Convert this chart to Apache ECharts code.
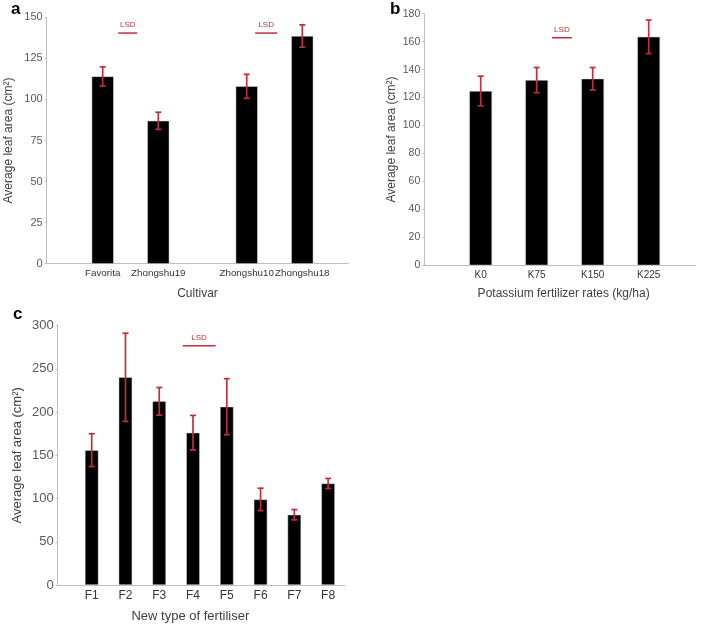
<!DOCTYPE html>
<html><head><meta charset="utf-8">
<script src="https://cdn.jsdelivr.net/npm/echarts@6/dist/echarts.min.js"></script>
<style>html,body{margin:0;padding:0;background:#fff}#c{width:707px;height:625px}</style>
</head><body><div id="c"></div>
<script>
// ---- data ----
const aCategories = ['Favorita', 'Zhongshu19', 'Zhongshu10', 'Zhongshu18'];
const aValues = [114, 87, 108, 138.6];
const aErrors = [5.8, 5.2, 7.3, 6.8];
const aYTicks = [0, 25, 50, 75, 100, 125, 150];

const bCategories = ['K0', 'K75', 'K150', 'K225'];
const bValues = [124.7, 132.5, 133.5, 163.5];
const bErrors = [10.6, 9, 8, 12];
const bYTicks = [0, 20, 40, 60, 80, 100, 120, 140, 160, 180];

const cCategories = ['F1', 'F2', 'F3', 'F4', 'F5', 'F6', 'F7', 'F8'];
const cValues = [156, 240.3, 212.5, 176.2, 206.3, 99, 81.3, 117.5];
const cErrors = [19, 51, 16, 20, 32.4, 13, 6, 5.8];
const cYTicks = [0, 50, 100, 150, 200, 250, 300];

const FONT = 'Liberation Sans, Arial, sans-serif';
const RED = '#bf303a';
const AXIS = '#bfbfbf';

const chart = echarts.init(document.getElementById('c'), null, {renderer: 'canvas'});

function tickCfg(ticks) {
  return {min: ticks[0], max: ticks[ticks.length - 1], interval: ticks[1] - ticks[0]};
}

function frameX(gridIndex, name, gap, fontSize, pad) {
  return {
    type: 'value', gridIndex, min: 0, max: 1,
    axisLine: {show: true, lineStyle: {color: AXIS, width: 1}},
    axisTick: {show: false}, axisLabel: {show: false}, splitLine: {show: false},
    name, nameLocation: 'middle', nameGap: gap,
    nameTextStyle: {fontFamily: FONT, fontSize, color: '#404040', padding: pad}
  };
}
function frameY(gridIndex, ticks, name, gap, fontSize, labelSize) {
  return Object.assign({
    type: 'value', gridIndex,
    axisLine: {show: true, lineStyle: {color: AXIS, width: 1}},
    axisTick: {show: true, length: 2, lineStyle: {color: AXIS}},
    axisLabel: {fontFamily: FONT, fontSize: labelSize, color: '#595959', margin: 4},
    splitLine: {show: false},
    name, nameLocation: 'middle', nameGap: gap,
    nameTextStyle: {fontFamily: FONT, fontSize, color: '#404040'}
  }, tickCfg(ticks));
}
function barX(gridIndex, cats, fontSize, margin) {
  return {
    type: 'category', gridIndex, data: cats,
    axisLine: {show: false}, axisTick: {show: false}, splitLine: {show: false},
    axisLabel: {interval: 0, fontFamily: FONT, fontSize, color: '#333', margin}
  };
}
function barY(gridIndex, ticks) {
  return Object.assign({type: 'value', gridIndex, show: false, splitLine: {show: false}}, tickCfg(ticks));
}
function errItem(params, api) {
  const i = api.value(0);
  const lo = api.coord([i, api.value(1)]);
  const hi = api.coord([i, api.value(2)]);
  const h = 3;
  const style = {stroke: RED, lineWidth: 1.7};
  return {type: 'group', children: [
    {type: 'line', shape: {x1: lo[0], y1: lo[1], x2: hi[0], y2: hi[1]}, style},
    {type: 'line', shape: {x1: hi[0] - h, y1: hi[1], x2: hi[0] + h, y2: hi[1]}, style},
    {type: 'line', shape: {x1: lo[0] - h, y1: lo[1], x2: lo[0] + h, y2: lo[1]}, style}
  ]};
}
function barSeries(idx, values, width) {
  return {type: 'bar', xAxisIndex: idx, yAxisIndex: idx, data: values, barWidth: width,
    itemStyle: {color: '#000', borderColor: '#d9d9d9', borderWidth: 0.5}, silent: true, animation: false};
}
function errSeries(idx, values, errors) {
  return {type: 'custom', xAxisIndex: idx, yAxisIndex: idx, renderItem: errItem, z: 5, silent: true,
    encode: {x: 0, y: [1, 2]}, animation: false,
    data: values.map((v, i) => [i, v - errors[i], v + errors[i]])};
}

const grids = [
  {left: 46.7, top: 17.3, width: 301.6, height: 246.4},   // 0 a frame
  {left: 74.9, top: 17.3, width: 111.2, height: 246.4},   // 1 a group 1
  {left: 218.9, top: 17.3, width: 111.2, height: 246.4},  // 2 a group 2
  {left: 424.3, top: 13.7, width: 270.7, height: 251.6},  // 3 b frame
  {left: 452.7, top: 13.7, width: 224, height: 251.6},    // 4 b bars
  {left: 57.7, top: 325.7, width: 287.3, height: 259.3},  // 5 c frame
  {left: 74.8, top: 325.7, width: 270.2, height: 259.3}   // 6 c bars
];

const yName = 'Average leaf area (cm²)';
chart.setOption({
  animation: false,
  backgroundColor: '#fff',
  grid: grids.map(g => Object.assign({outerBoundsMode: 'none', containLabel: false}, g)),
  xAxis: [
    frameX(0, 'Cultivar', 24, 12, [0, 0, 0, 0]),
    barX(1, aCategories.slice(0, 2), 9.8, 5),
    barX(2, aCategories.slice(2, 4), 9.8, 5),
    frameX(3, 'Potassium fertilizer rates (kg/ha)', 22, 12, [0, 0, 0, 8]),
    barX(4, bCategories, 10, 5),
    frameX(5, 'New type of fertiliser', 25, 13, [0, 22, 0, 0]),
    barX(6, cCategories, 12, 5)
  ],
  yAxis: [
    frameY(0, aYTicks, yName, 32, 12, 11),
    barY(1, aYTicks),
    barY(2, aYTicks),
    frameY(3, bYTicks, yName, 27, 12, 10.5),
    barY(4, bYTicks),
    frameY(5, cYTicks, yName, 34, 13, 13),
    barY(6, cYTicks)
  ],
  series: [
    barSeries(1, aValues.slice(0, 2), 22), errSeries(1, aValues.slice(0, 2), aErrors.slice(0, 2)),
    barSeries(2, aValues.slice(2, 4), 22), errSeries(2, aValues.slice(2, 4), aErrors.slice(2, 4)),
    barSeries(4, bValues, 22.7), errSeries(4, bValues, bErrors),
    barSeries(6, cValues, 13.5), errSeries(6, cValues, cErrors)
  ]
});

// LSD annotations (position in category units on each bar grid, height in data units)
const lsdNotes = [
  {axis: 1, cats: aCategories.slice(0, 2), at: 0.45, value: 140.4, len: 19},
  {axis: 2, cats: aCategories.slice(2, 4), at: 0.35, value: 140.4, len: 22},
  {axis: 4, cats: bCategories, at: 1.45, value: 162.8, len: 20},
  {axis: 6, cats: cCategories, at: 3.18, value: 276.8, len: 33}
];
const graphics = [];
lsdNotes.forEach(n => {
  const p0 = chart.convertToPixel({xAxisIndex: n.axis, yAxisIndex: n.axis}, [n.cats[0], n.value]);
  const p1 = chart.convertToPixel({xAxisIndex: n.axis, yAxisIndex: n.axis}, [n.cats[1], n.value]);
  const cx = p0[0] + n.at * (p1[0] - p0[0]);
  const cy = p0[1];
  graphics.push({type: 'line', shape: {x1: cx - n.len / 2, y1: cy, x2: cx + n.len / 2, y2: cy},
    style: {stroke: RED, lineWidth: 1.5}, silent: true});
  graphics.push({type: 'text', x: cx, y: cy - 8,
    style: {text: 'LSD', fill: RED, font: '8px ' + FONT, textAlign: 'center', textVerticalAlign: 'middle'}, silent: true});
});
[['a', 11, 9], ['b', 390, 9], ['c', 13, 314]].forEach(([t, x, y]) => {
  graphics.push({type: 'text', x, y, style: {text: t, fill: '#000', font: 'bold 17px ' + FONT,
    textAlign: 'left', textVerticalAlign: 'middle'}, silent: true});
});
chart.setOption({graphic: graphics});
</script>
</body></html>
